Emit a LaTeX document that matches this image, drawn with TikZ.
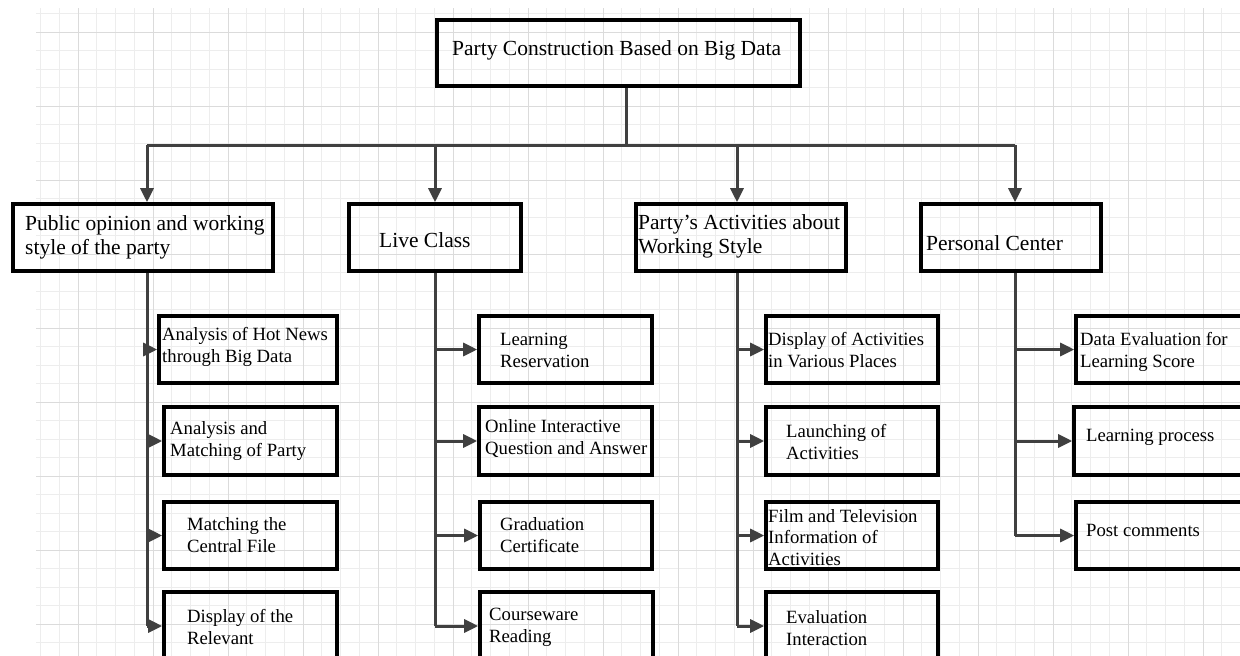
\documentclass[tikz,border=0pt]{standalone}
\usepackage{fontspec}
\setmainfont{Liberation Serif}
\usetikzlibrary{arrows.meta}
\tikzset{
	box/.style={draw, line width=3.6pt, inner sep=0pt, minimum height=67pt},
	big/.style={anchor=west, inner sep=0pt, align=left, font=\fontsize{21.5}{24}\selectfont},
	small/.style={anchor=west, inner sep=0pt, align=left, font=\fontsize{18.7}{22}\selectfont},
	link/.style={draw=black!75, line width=3pt},
	arr/.style={link, -{Triangle[length=14pt,width=13pt]}},
	gridminor/.style={draw=black!7, line width=.8pt},
	gridmajor/.style={draw=black!14, line width=.8pt}
}
\begin{document}
\begin{tikzpicture}[x=1pt,y=-1pt]
	\clip (0,0) rectangle (1240,656);
	\fill [white] (0,0) rectangle (1240,656);
	
	% paper grid
	\foreach \x in {40.5,59.25,...,1240} \draw [gridminor] (\x,8)--(\x,656);
	\foreach \y in {13.5,32,...,656} \draw [gridminor] (36,\y)--(1240,\y);
	\foreach \x in {78,153,...,1240} \draw [gridmajor] (\x,8)--(\x,656);
	\foreach \y in {32,106,...,656} \draw [gridmajor] (36,\y)--(1240,\y);
	
	% top
	\node [box, minimum width=363pt, minimum height=66pt] (top) at (618.5,53) {};
	\node [big] (top-t) at (452,50) {Party Construction Based on Big Data};
	
	% first level
	\node [box, minimum width=260pt] (opinion) at (143,237.5) {};
	\node [big] (opinion-t) at (25,237.5) {Public opinion and working\\style of the party};
	\node [box, minimum width=172pt] (live) at (435,237.5) {};
	\node [big] (live-t) at (379,240) {Live Class};
	\node [box, minimum width=210pt] (activ) at (741,237.5) {};
	\node [big] (activ-t) at (638,236.5) {Party's Activities about\\Working Style};
	\node [box, minimum width=180pt] (personal) at (1011,237.5) {};
	\node [big] (personal-t) at (926,243) {Personal Center};
	
	% second level, public opinion
	\node [box, minimum width=178pt] (hot) at (248,349.5) {};
	\node [small] (hot-t) at (162,347) {Analysis of Hot News\\through Big Data};
	\node [box, minimum width=173pt, minimum height=68pt] (match) at (250.5,441) {};
	\node [small] (match-t) at (170,441.5) {Analysis and\\Matching of Party};
	\node [box, minimum width=173pt] (file) at (250.5,535.5) {};
	\node [small] (file-t) at (187,535) {Matching the\\Central File};
	\node [box, minimum width=173pt, minimum height=68pt] (relev) at (250.5,626) {};
	\node [small] (relev-t) at (187,627) {Display of the\\Relevant};
	
	% second level, live class
	\node [box, minimum width=173pt] (reserv) at (565.5,349.5) {};
	\node [small] (reserv-t) at (500,350) {Learning\\Reservation};
	\node [box, minimum width=173pt, minimum height=68pt] (online) at (565.5,441) {};
	\node [small] (online-t) at (485,439) {Online Interactive\\Question and Answer};
	\node [box, minimum width=172pt] (grad) at (566,535.5) {};
	\node [small] (grad-t) at (500,535) {Graduation\\Certificate};
	\node [box, minimum width=173pt, minimum height=68pt] (course) at (566.5,626) {};
	\node [small] (course-t) at (489,627) {Courseware\\Reading};
	
	% second level, activities
	\node [box, minimum width=172pt] (places) at (852,349.5) {};
	\node [small] (places-t) at (768,350) {Display of Activities\\in Various Places};
	\node [box, minimum width=172pt, minimum height=68pt] (launch) at (852,441) {};
	\node [small] (launch-t) at (786,442) {Launching of\\Activities};
	\node [box, minimum width=172pt] (film) at (852,535.5) {};
	\node [small, font=\fontsize{18.7}{21.5}\selectfont] (film-t) at (768,537.5) {Film and Television\\Information of\\Activities};
	\node [box, minimum width=172pt, minimum height=68pt] (evalu) at (852,626) {};
	\node [small] (evalu-t) at (786,628) {Evaluation\\Interaction};
	
	% second level, personal center
	\node [box, minimum width=190pt] (score) at (1171,349.5) {};
	\node [small] (score-t) at (1080,351.5) {Data Evaluation for\\Learning Score};
	\node [box, minimum width=192pt, minimum height=68pt] (process) at (1170,441) {};
	\node [small] (process-t) at (1086,437.5) {Learning process};
	\node [box, minimum width=190pt] (comment) at (1171,535.5) {};
	\node [small] (comment-t) at (1086,530.5) {Post comments};
	
	% connectors
	\coordinate (bus) at (626,145);
	\coordinate (d1) at (147,145);
	\coordinate (d2) at (435,145);
	\coordinate (d3) at (737,145);
	\coordinate (d4) at (1015,145);
	\draw [link] (bus |- top.south)--(bus);
	\draw [link] (d1)--(d4);
	\draw [arr] (d1)--(d1 |- opinion.north);
	\draw [arr] (d2)--(d2 |- live.north);
	\draw [arr] (d3)--(d3 |- activ.north);
	\draw [arr] (d4)--(d4 |- personal.north);
	
	\draw [link] (d1 |- opinion.south)--(d1 |- relev.west);
	\draw [arr] (d1 |- hot.west)--(hot.west);
	\draw [arr] (d1 |- match.west)--(match.west);
	\draw [arr] (d1 |- file.west)--(file.west);
	\draw [arr] (d1 |- relev.west)--(relev.west);
	
	\draw [link] (d2 |- live.south)--(d2 |- course.west);
	\draw [arr] (d2 |- reserv.west)--(reserv.west);
	\draw [arr] (d2 |- online.west)--(online.west);
	\draw [arr] (d2 |- grad.west)--(grad.west);
	\draw [arr] (d2 |- course.west)--(course.west);
	
	\draw [link] (d3 |- activ.south)--(d3 |- evalu.west);
	\draw [arr] (d3 |- places.west)--(places.west);
	\draw [arr] (d3 |- launch.west)--(launch.west);
	\draw [arr] (d3 |- film.west)--(film.west);
	\draw [arr] (d3 |- evalu.west)--(evalu.west);
	
	\draw [link] (d4 |- personal.south)--(d4 |- comment.west);
	\draw [arr] (d4 |- score.west)--(score.west);
	\draw [arr] (d4 |- process.west)--(process.west);
	\draw [arr] (d4 |- comment.west)--(comment.west);
\end{tikzpicture}
\end{document}
